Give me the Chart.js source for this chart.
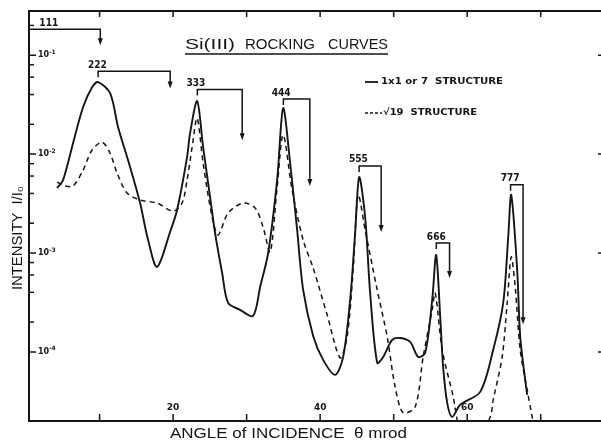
<!DOCTYPE html>
<html>
<head>
<meta charset="utf-8">
<script src="https://cdn.jsdelivr.net/npm/chart.js@4.4.1/dist/chart.umd.min.js"></script>
<style>
  body { margin: 0; background: #fff; }
  #chart { display: block; }
</style>
</head>
<body>
<canvas id="chart" width="601" height="442"></canvas>
<script>
// 1x1 or 7 structure (solid)
const solidAngle = [4.22, 5.03, 6.39, 7.76, 8.98, 9.80, 11.43, 12.52, 14.15, 15.51, 16.60, 17.82,
  19.59, 20.54, 21.90, 22.31, 23.27, 24.08, 25.03, 25.71, 26.67, 27.48, 29.12, 30.88, 31.84, 32.93,
  34.15, 34.97, 35.92, 36.87, 37.69, 39.05, 40.41, 42.04, 43.13, 44.08, 44.76, 45.31, 46.12, 46.80,
  47.76, 48.57, 49.80, 50.88, 52.24, 53.33, 54.29, 55.24, 55.78, 56.33, 56.73, 57.28, 57.96, 59.05,
  61.77, 63.54, 64.90, 65.58, 65.99, 66.80, 67.21, 67.89, 68.16];
const solidIntensity = [4.54e-3, 5.46e-3, 1.29e-2, 2.99e-2, 4.75e-2, 5.34e-2, 4.13e-2, 1.87e-2, 7.40e-3,
  3.20e-3, 1.35e-3, 7.23e-4, 1.63e-3, 2.72e-3, 9.33e-3, 1.63e-2, 3.43e-2, 1.18e-2, 3.68e-3, 1.59e-3,
  6.28e-4, 3.13e-4, 2.66e-4, 2.31e-4, 4.54e-4, 1.0e-3, 5.46e-3, 2.92e-2, 8.11e-3, 1.71e-3, 4.23e-4,
  1.45e-4, 8.30e-5, 5.86e-5, 8.89e-5, 3.35e-4, 1.59e-3, 5.86e-3, 2.31e-3, 3.94e-4, 7.74e-5, 8.89e-5,
  1.32e-4, 1.38e-4, 1.26e-4, 8.89e-5, 9.77e-5, 3.35e-4, 9.55e-4, 2.26e-4, 7.05e-5, 3.05e-5, 2.20e-5,
  2.92e-5, 3.94e-5, 1.05e-4, 3.13e-4, 1.45e-3, 3.85e-3, 6.73e-4, 1.42e-4, 5.21e-5, 3.68e-5];

// sqrt(19) structure (dashed)
const dashedAngle = [4.22, 5.31, 6.39, 7.76, 8.98, 10.34, 11.43, 12.38, 13.74, 15.51, 17.82, 20.0,
  21.22, 21.90, 22.59, 23.27, 24.08, 25.31, 26.12, 27.48, 29.52, 31.16, 32.24, 33.20, 34.15, 34.97,
  36.19, 37.69, 39.05, 40.95, 42.72, 43.67, 44.49, 45.17, 46.12, 47.76, 49.12, 50.20, 51.29, 52.93,
  54.01, 55.24, 55.65, 56.60, 58.10, 58.78, 60.27, 63.13, 63.54, 64.76, 65.44, 65.99, 66.53, 67.21,
  68.16, 68.84, 69.25];
const dashedIntensity = [5.21e-3, 4.75e-3, 4.75e-3, 6.89e-3, 1.10e-2, 1.32e-2, 1.02e-2, 6.43e-3, 4.04e-3,
  3.43e-3, 3.20e-3, 2.65e-3, 3.20e-3, 5.46e-3, 1.18e-2, 2.31e-2, 8.11e-3, 2.31e-3, 1.52e-3, 2.53e-3,
  3.20e-3, 2.85e-3, 1.83e-3, 1.02e-3, 4.64e-3, 1.56e-2, 4.33e-3, 1.35e-3, 7.05e-4, 2.37e-4, 8.69e-5,
  1.42e-4, 6.73e-4, 3.85e-3, 1.71e-3, 4.23e-4, 1.42e-4, 4.43e-5, 2.42e-5, 2.78e-5, 8.89e-5, 2.66e-4,
  3.94e-4, 1.05e-4, 3.51e-5, 1.83e-5, 8.1e-6, 2.20e-5, 3.27e-5, 8.89e-5, 3.13e-4, 9.12e-4, 4.54e-4,
  1.05e-4, 4.13e-5, 2.20e-5, 1.63e-5];

// axis ticks
const decadeTicks = [1e-1, 1e-2, 1e-3, 1e-4];
const decadeExp = ["-1", "-2", "-3", "-4"];
const minorFactors = [2, 4, 6, 8];
const angleTicks = [10, 20, 30, 40, 50, 60, 70];
const angleLabels = ["", "20", "", "40", "", "60", ""];

// reflection markers: label, where the label sits, peak, arrow, bar level, arrow tip
const peakLabels = ["111", "222", "333", "444", "555", "666", "777"];
const labelAngle = [3.1, 9.7, 23.1, 34.7, 45.2, 55.8, 65.85];
const peakAngle = [null, 9.8, 23.3, 35.0, 45.3, 55.8, 65.9];
const arrowAngle = [10.1, 19.6, 29.4, 38.6, 48.3, 57.6, 67.6];
const barLevel = [0.183, 6.9e-2, 4.5e-2, 3.6e-2, 7.6e-3, 1.26e-3, 4.9e-3];
const tipLevel = [0.126, 4.6e-2, 1.38e-2, 4.75e-3, 1.63e-3, 5.6e-4, 1.9e-4];

const ink = "#151515";

function fitText(ctx, text, left, cy, width, font) {
  ctx.save();
  ctx.font = font;
  const w = ctx.measureText(text).width;
  ctx.translate(left + width / 2, cy);
  ctx.scale(width / w, 1);
  ctx.textAlign = "center";
  ctx.textBaseline = "middle";
  ctx.fillText(text, 0, 0);
  ctx.restore();
}

const frame = {
  id: "frame",
  afterDraw(chart) {
    const { ctx, chartArea: a, scales: { x, y } } = chart;
    ctx.save();
    ctx.strokeStyle = ink;
    ctx.fillStyle = ink;

    // frame
    ctx.lineWidth = 2;
    ctx.beginPath();
    ctx.moveTo(a.right, a.top);
    ctx.lineTo(a.left, a.top);
    ctx.lineTo(a.left, a.bottom);
    ctx.lineTo(a.right, a.bottom);
    ctx.stroke();

    // y ticks (inward)
    ctx.lineWidth = 1.5;
    decadeTicks.forEach((d, i) => {
      const py = y.getPixelForValue(d);
      ctx.beginPath();
      ctx.moveTo(a.left, py); ctx.lineTo(a.left + 7, py);
      ctx.moveTo(a.right - 3, py); ctx.lineTo(a.right, py);
      ctx.stroke();
      ctx.font = "bold 8px 'DejaVu Sans'";
      ctx.textAlign = "left";
      ctx.textBaseline = "middle";
      ctx.fillText("10", a.left + 9, py);
      const w = ctx.measureText("10").width;
      ctx.font = "bold 6px 'DejaVu Sans'";
      ctx.fillText(decadeExp[i], a.left + 9 + w, py - 3);
      minorFactors.forEach(f => {
        const v = d * f;
        if (v > y.max) return;
        const pm = y.getPixelForValue(v);
        ctx.beginPath();
        ctx.moveTo(a.left, pm); ctx.lineTo(a.left + 5, pm);
        ctx.stroke();
      });
    });

    // x ticks (inward, top and bottom)
    angleTicks.forEach((t, i) => {
      const px = x.getPixelForValue(t);
      ctx.beginPath();
      ctx.moveTo(px, a.bottom); ctx.lineTo(px, a.bottom - 7);
      ctx.moveTo(px, a.top); ctx.lineTo(px, a.top + 6);
      ctx.stroke();
      if (angleLabels[i]) {
        ctx.font = "bold 9px 'DejaVu Sans'";
        ctx.textAlign = "center";
        ctx.textBaseline = "middle";
        ctx.fillText(angleLabels[i], px, a.bottom - 13);
      }
    });

    // reflection brackets
    ctx.lineWidth = 1.5;
    peakLabels.forEach((lab, i) => {
      const by = y.getPixelForValue(barLevel[i]);
      const ty = y.getPixelForValue(tipLevel[i]);
      const ax = x.getPixelForValue(arrowAngle[i]);
      const sx = peakAngle[i] === null ? a.left : x.getPixelForValue(peakAngle[i]);
      ctx.beginPath();
      if (peakAngle[i] !== null) {
        ctx.moveTo(sx, by + 6);
        ctx.lineTo(sx, by);
      } else {
        ctx.moveTo(sx, by);
      }
      ctx.lineTo(ax, by);
      ctx.lineTo(ax, ty - 5);
      ctx.stroke();
      ctx.beginPath();
      ctx.moveTo(ax - 2.5, ty - 7);
      ctx.lineTo(ax + 2.5, ty - 7);
      ctx.lineTo(ax, ty);
      ctx.closePath();
      ctx.fill();
      const lx = x.getPixelForValue(labelAngle[i]);
      fitText(ctx, lab, lx - 9.5, by - 6, 19, "bold 10px 'DejaVu Sans'");
    });

    // title
    fitText(ctx, "Si(III)", 185, 45, 50, "15px 'Liberation Sans'");
    fitText(ctx, "ROCKING", 245, 45, 70, "15px 'Liberation Sans'");
    fitText(ctx, "CURVES", 328, 45, 60, "15px 'Liberation Sans'");
    ctx.lineWidth = 1.3;
    ctx.beginPath();
    ctx.moveTo(185, 54); ctx.lineTo(388, 54);
    ctx.stroke();

    // legend
    ctx.lineWidth = 1.8;
    ctx.beginPath();
    ctx.moveTo(365, 82); ctx.lineTo(378, 82);
    ctx.stroke();
    fitText(ctx, "1x1 or 7  STRUCTURE", 381, 82, 122, "bold 9px 'DejaVu Sans'");
    ctx.setLineDash([3, 2]);
    ctx.lineWidth = 1.5;
    ctx.beginPath();
    ctx.moveTo(365, 113); ctx.lineTo(382, 113);
    ctx.stroke();
    ctx.setLineDash([]);
    fitText(ctx, "√19  STRUCTURE", 383, 113, 94, "bold 9px 'DejaVu Sans'");

    // axis titles
    fitText(ctx, "ANGLE of INCIDENCE  θ mrod", 170, 434, 237, "14px 'Liberation Sans'");
    ctx.save();
    ctx.translate(18, 238);
    ctx.rotate(-Math.PI / 2);
    fitText(ctx, "INTENSITY  I/I₀", -52, 0, 104, "14px 'Liberation Sans'");
    ctx.restore();

    ctx.restore();
  }
};

new Chart(document.getElementById("chart"), {
  type: "scatter",
  data: {
    datasets: [
      {
        label: "1x1 or 7 structure",
        data: solidAngle.map((a, i) => ({ x: a, y: solidIntensity[i] })),
        showLine: true,
        borderColor: ink,
        borderWidth: 1.9,
        pointRadius: 0,
        tension: 0.3
      },
      {
        label: "√19 structure",
        data: dashedAngle.map((a, i) => ({ x: a, y: dashedIntensity[i] })),
        showLine: true,
        borderColor: ink,
        borderWidth: 1.5,
        borderDash: [5, 4],
        pointRadius: 0,
        tension: 0.3
      }
    ]
  },
  options: {
    responsive: false,
    animation: false,
    layout: { padding: { left: 29, top: 11, right: 0, bottom: 21 } },
    plugins: { legend: { display: false }, tooltip: { enabled: false } },
    scales: {
      x: { type: "linear", min: 0.4, max: 78.2, display: false },
      y: { type: "logarithmic", min: 2.0e-5, max: 0.28, display: false }
    }
  },
  plugins: [frame]
});
</script>
</body>
</html>
